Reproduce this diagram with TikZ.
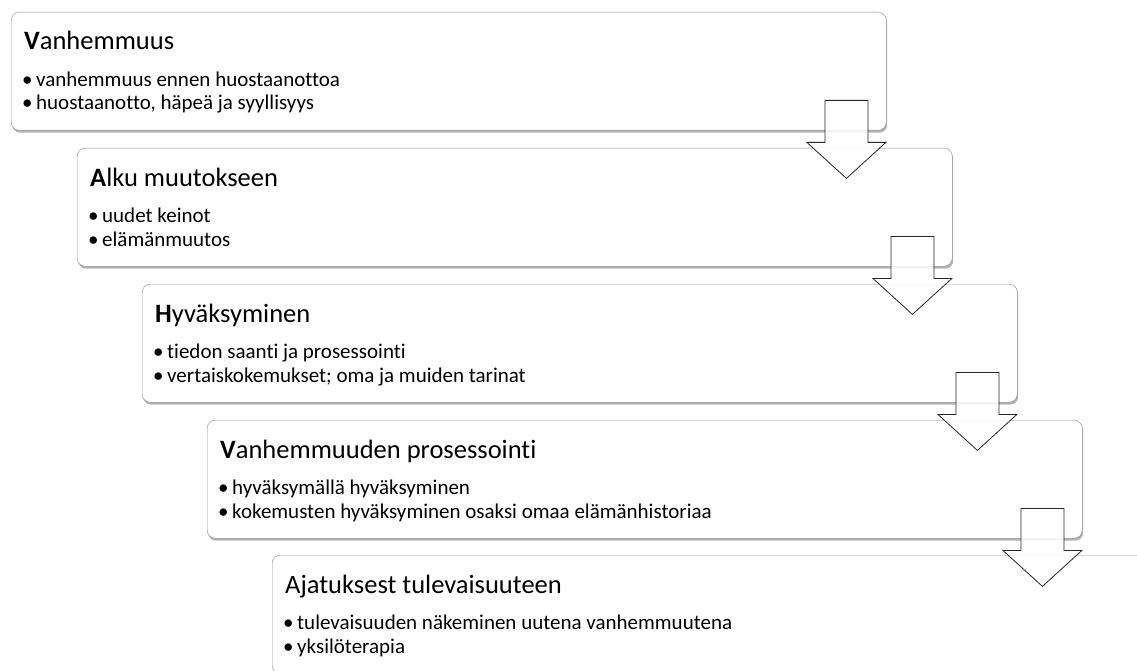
\documentclass[tikz,border=0pt]{standalone}
\usepackage{fontspec}
\setmainfont{Carlito}[Ligatures={NoCommon}]
\usetikzlibrary{positioning,calc,shadows}

\tikzset{
  stepbox/.style={draw=black!45, fill=white, rounded corners=8pt, anchor=north west,
    minimum width=875pt, minimum height=118pt, inner sep=0pt,
    drop shadow={shadow xshift=1pt, shadow yshift=-2.5pt, opacity=0.3, fill=black}},
  boxtitle/.style={anchor=base west, inner sep=0pt, font=\fontsize{26.5}{30}\selectfont},
  boxitem/.style={anchor=base west, inner sep=0pt, font=\fontsize{21}{24}\selectfont},
  downarrow/.pic={
    \draw[black!85, thick, fill=white, fill opacity=0.85]
      (-21.5,0) -- (21.5,0) -- (21.5,42) -- (39.5,42) -- (0,78)
      -- (-39.5,42) -- (-21.5,42) -- cycle;
  }
}
\newcommand{\bul}{\makebox[14pt][l]{•}}

\begin{document}
\begin{tikzpicture}[x=1pt, y=-1pt]
\useasboundingbox (0,0) rectangle (1137,671);

% Boxes
\node[stepbox] (b1) at (11,12) {};
\node[stepbox] (b2) at (77,148) {};
\node[stepbox] (b3) at (142,284) {};
\node[stepbox] (b4) at (207,420) {};
\node[stepbox] (b5) at (272,555) {};

% Texts
\node[boxtitle] (t1) at ($(b1.north west)+(13,38)$) {\textbf{V}anhemmuus};
\node[boxitem] (t1a) at ($(b1.north west)+(11,74.5)$) {\bul vanhemmuus ennen huostaanottoa};
\node[boxitem] (t1b) at ($(b1.north west)+(11,98)$) {\bul huostaanotto, häpeä ja syyllisyys};

\node[boxtitle] (t2) at ($(b2.north west)+(13,38)$) {\textbf{A}lku muutokseen};
\node[boxitem] (t2a) at ($(b2.north west)+(11,74.5)$) {\bul uudet keinot};
\node[boxitem] (t2b) at ($(b2.north west)+(11,98)$) {\bul elämänmuutos};

\node[boxtitle] (t3) at ($(b3.north west)+(13,38)$) {\textbf{H}yväksyminen};
\node[boxitem] (t3a) at ($(b3.north west)+(11,74.5)$) {\bul tiedon saanti ja prosessointi};
\node[boxitem] (t3b) at ($(b3.north west)+(11,98)$) {\bul vertaiskokemukset; oma ja muiden tarinat};

\node[boxtitle] (t4) at ($(b4.north west)+(13,38)$) {\textbf{V}anhemmuuden prosessointi};
\node[boxitem] (t4a) at ($(b4.north west)+(11,74.5)$) {\bul hyväksymällä hyväksyminen};
\node[boxitem] (t4b) at ($(b4.north west)+(11,98)$) {\bul kokemusten hyväksyminen osaksi omaa elämänhistoriaa};

\node[boxtitle] (t5) at ($(b5.north west)+(13,38)$) {Ajatuksest tulevaisuuteen};
\node[boxitem] (t5a) at ($(b5.north west)+(11,74.5)$) {\bul tulevaisuuden näkeminen uutena vanhemmuutena};
\node[boxitem] (t5b) at ($(b5.north west)+(11,98)$) {\bul yksilöterapia};

% Arrows
\pic at ($(b1.south east)+(-40,-30)$) {downarrow};
\pic at ($(b2.south east)+(-40,-30)$) {downarrow};
\pic at ($(b3.south east)+(-40,-30)$) {downarrow};
\pic at ($(b4.south east)+(-40,-30)$) {downarrow};
\end{tikzpicture}
\end{document}
